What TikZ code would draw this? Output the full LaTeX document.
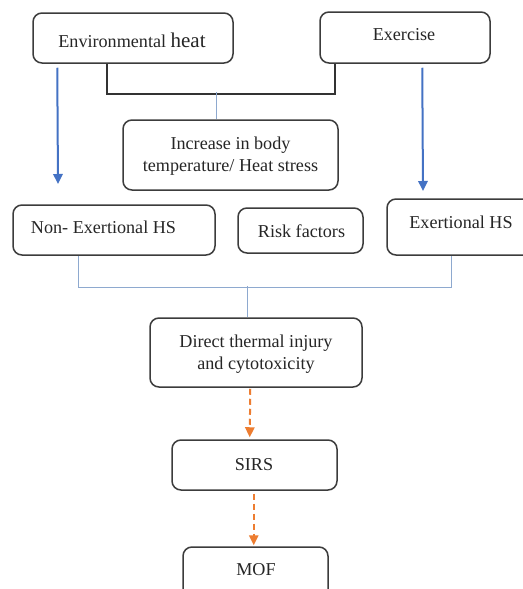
\documentclass[tikz,border=0pt]{standalone}
\usepackage{fontspec}
\setmainfont{Liberation Serif}
\usetikzlibrary{arrows.meta,calc}
\newlength\pxu
\setlength\pxu{0.75pt}
\definecolor{boxgray}{HTML}{3C3C3C}
\definecolor{txtgray}{HTML}{262626}
\definecolor{arrblue}{HTML}{4472C4}
\definecolor{thinblue}{HTML}{8EA9CF}
\definecolor{arrorange}{HTML}{ED7D31}
\begin{document}
\begin{tikzpicture}[x=0.75pt,y=-0.75pt,
  box/.style={draw=boxgray,line width=1.5\pxu,rounded corners=9\pxu,inner sep=0pt},
  txt/.style={text=txtgray,inner sep=0pt,font=\fontsize{13.6pt}{16.5pt}\selectfont,align=center},
  blackline/.style={draw=black!80,line width=2.2\pxu},
  thinline/.style={draw=thinblue,line width=1\pxu},
  bluearrow/.style={draw=arrblue,line width=2\pxu,-{Triangle[width=7pt,length=7.5pt]}},
  orangearrow/.style={draw=arrorange,line width=2\pxu,dash pattern=on 6\pxu off 4\pxu,-{Triangle[width=7pt,length=7.5pt]}}
]
\useasboundingbox (0,0) rectangle (523,589);
\fill[white] (0,0) rectangle (523,589);
\clip (0,0) rectangle (523,589);

% boxes
\node[box,minimum width=200\pxu,minimum height=50\pxu] (env) at (133,38) {};
\node[box,minimum width=170\pxu,minimum height=51\pxu] (exer) at (405,37.5) {};
\node[box,minimum width=215\pxu,minimum height=70\pxu] (incr) at (230.5,155) {};
\node[box,minimum width=202\pxu,minimum height=50\pxu] (nonex) at (114,230) {};
\node[box,minimum width=125\pxu,minimum height=45\pxu] (risk) at (300.5,230.5) {};
\node[box,minimum width=152\pxu,minimum height=56\pxu] (exert) at (463,227) {};
\node[box,minimum width=212\pxu,minimum height=69\pxu] (direct) at (256,352.5) {};
\node[box,minimum width=165\pxu,minimum height=50\pxu] (sirs) at (254.5,465) {};
\node[box,minimum width=145\pxu,minimum height=56\pxu] (mof) at (255.5,575) {};

% texts
\node[txt,anchor=base] (envt) at (132,47) {Environmental {\fontsize{15.75pt}{18pt}\selectfont heat}};
\node[txt,anchor=base] (exert0) at (404,40) {Exercise};
\node[txt] (incrt) at (230.5,156.5) {Increase in body\\temperature/ Heat stress};
\node[txt,anchor=base] (nonext) at (103.5,233) {Non- Exertional HS};
\node[txt,anchor=base] (riskt) at (301.5,237) {Risk factors};
\node[txt,anchor=base] (exertt) at (461,228) {Exertional HS};
\node[txt] (directt) at (256,354.5) {Direct thermal injury\\and cytotoxicity};
\node[txt,anchor=base] (sirst) at (254,470) {SIRS};
\node[txt,anchor=base] (moft) at (256,575) {MOF};

% black connector joining the two causes
\coordinate (jL) at ($(env.south west)+(75,0)$);
\coordinate (jR) at ($(exer.south west)+(16,0)$);
\coordinate (jM) at ($(incr.north west)+(94,0)$);
\draw[blackline] (jL) -- ++(0,30) -| (jR);
\draw[thinline] (jM) -- ++(0,-27);

% blue arrows
\coordinate (aL0) at ($(env.south west)+(25,4)$);
\coordinate (aL1) at (58,184);
\draw[bluearrow] (aL0) -- (aL1);
\coordinate (aR0) at ($(exer.south west)+(103,4)$);
\coordinate (aR1) at (423,191);
\draw[bluearrow] (aR0) -- (aR1);

% lower connector
\coordinate (kL) at ($(nonex.south west)+(66,0)$);
\coordinate (kR) at ($(exert.south west)+(65,0)$);
\coordinate (kM) at ($(direct.north west)+(98,0)$);
\draw[thinline] (kL) -- ++(0,32) -| (kR);
\draw[thinline] (kM) -- ++(0,-31);

% orange dashed arrows
\draw[orangearrow] ($(direct.south west)+(101,1)$) -- ($(sirs.north west)+(78.5,-2)$);
\draw[orangearrow] ($(sirs.south west)+(82.5,3)$) -- ($(mof.north west)+(71.5,-1)$);
\end{tikzpicture}
\end{document}
